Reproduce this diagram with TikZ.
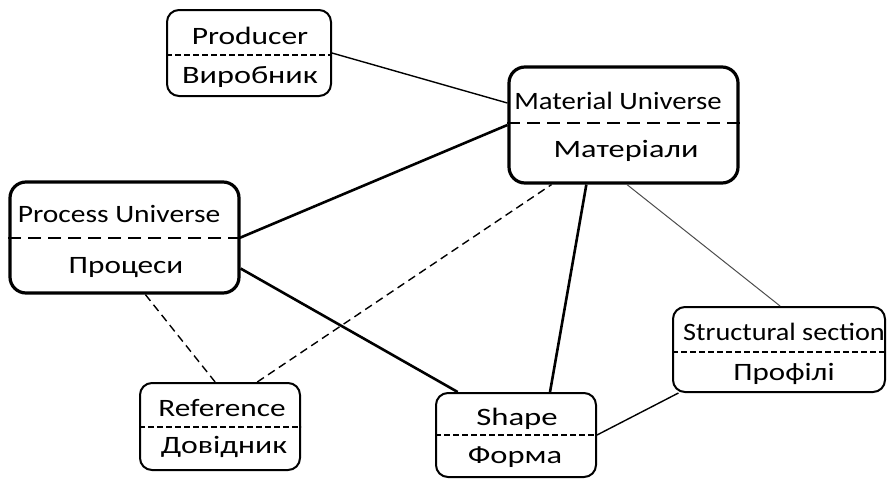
\documentclass[tikz,border=0pt]{standalone}
\usepackage{fontspec}
\setmainfont{Carlito}
\usetikzlibrary{calc}
\newcommand\mystretch[2]{\scalebox{#1}[1]{#2}}
\begin{document}
\begin{tikzpicture}[x=1pt,y=-1pt,
  box/.style={draw, line width=2pt, rounded corners=12pt, inner sep=0pt},
  bigbox/.style={box, line width=3.2pt, rounded corners=16pt},
  lbl/.style={anchor=base, inner sep=0pt, font=\fontsize{25}{28}\selectfont},
  div/.style={line width=1.4pt, dash pattern=on 6pt off 3pt},
  bigdiv/.style={line width=2.6pt, dash pattern=on 13pt off 7pt},
  thick link/.style={line width=2.6pt},
  thin link/.style={line width=1.4pt},
  faint link/.style={line width=1pt, black!70},
  dash link/.style={line width=1.4pt, dash pattern=on 8pt off 5pt}]
\useasboundingbox (0,0) rectangle (888,479);
% boxes
\node[box, minimum width=164pt, minimum height=86pt] (prod) at (249,53) {};
\node[bigbox, minimum width=229pt, minimum height=116pt] (mat) at (623.5,125) {};
\node[bigbox, minimum width=229pt, minimum height=111pt] (proc) at (124.5,237.5) {};
\node[box, minimum width=160pt, minimum height=87pt] (ref) at (220,426.5) {};
\node[box, minimum width=160pt, minimum height=84pt] (shape) at (516,435) {};
\node[box, minimum width=212pt, minimum height=85pt] (struct) at (779,349.5) {};
% dividers
\draw[div] (prod.west |- 0,55) -- (prod.east |- 0,55);
\draw[bigdiv] (mat.west |- 0,123) -- (mat.east |- 0,123);
\draw[bigdiv] (proc.west |- 0,238) -- (proc.east |- 0,238);
\draw[div] (ref.west |- 0,427) -- (ref.east |- 0,427);
\draw[div] (shape.west |- 0,435) -- (shape.east |- 0,435);
\draw[div] (struct.west |- 0,352) -- (struct.east |- 0,352);
% labels
\node[lbl] (prodA) at (250,44) {\mystretch{1.26}{Producer}};
\node[lbl] (prodB) at (250,83) {\mystretch{1.29}{Виробник}};
\node[lbl] (matA) at (618,109) {\mystretch{1.15}{Material Universe}};
\node[lbl] (matB) at (626,157) {\mystretch{1.29}{Матеріали}};
\node[lbl] (procA) at (119,222) {\mystretch{1.18}{Process Universe}};
\node[lbl] (procB) at (126,273) {\mystretch{1.25}{Процеси}};
\node[lbl] (refA) at (222,416) {\mystretch{1.25}{Reference}};
\node[lbl] (refB) at (224,453) {\mystretch{1.27}{Довідник}};
\node[lbl] (shapeA) at (517,425) {\mystretch{1.31}{Shape}};
\node[lbl] (shapeB) at (515,463) {\mystretch{1.3}{Форма}};
\node[lbl] (structA) at (784,340) {\mystretch{1.13}{Structural section}};
\node[lbl] (structB) at (784,380) {\mystretch{1.24}{Профілі}};
% connectors
\draw[thin link] (prod.east) -- ($(mat.west)+(0,-22)$);
\draw[thick link] (proc.east) -- (mat.west);
\draw[thick link] ($(proc.east)+(0,31)$) -- ($(shape.north west)!0.14!(shape.north east)$);
\draw[dash link] ($(proc.south west)!0.59!(proc.south east)$) -- ($(ref.north west)!0.47!(ref.north east)$);
\draw[dash link] ($(ref.north west)!0.73!(ref.north east)$) -- ($(mat.south west)!0.19!(mat.south east)$);
\draw[thick link] ($(mat.south west)!0.34!(mat.south east)$) -- ($(shape.north west)!0.71!(shape.north east)$);
\draw[faint link] ($(mat.south west)!0.515!(mat.south east)$) -- ($(struct.north west)!0.505!(struct.north east)$);
\draw[thin link] (shape.east) -- ($(struct.south west)!0.03!(struct.south east)$);
\end{tikzpicture}
\end{document}
